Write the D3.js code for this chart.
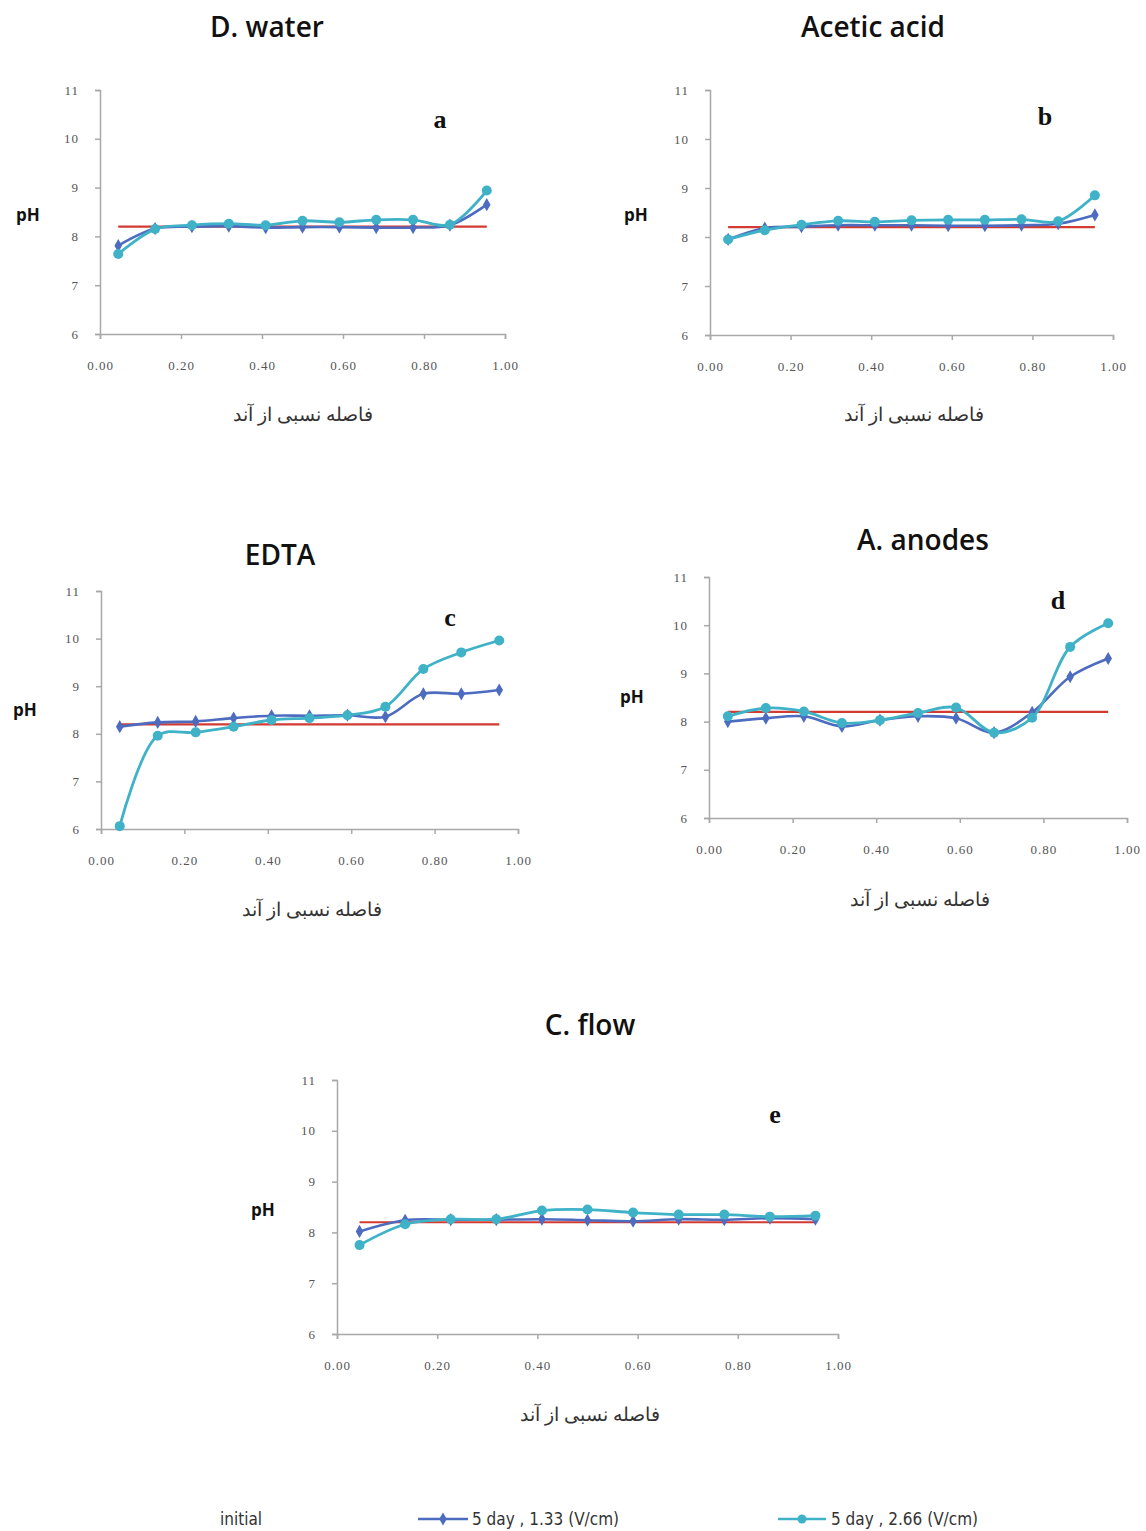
<!DOCTYPE html>
<html>
<head>
<meta charset="utf-8">
<script src="https://cdn.jsdelivr.net/npm/d3@7"></script>
<style>
  html, body { margin: 0; padding: 0; background: #fff; }
  svg { display: block; }
  .title { font-family: "Open Sans", sans-serif; font-weight: 600; font-size: 28px; fill: #111; }
  .ylab { font-family: "Open Sans", sans-serif; font-weight: 700; font-size: 17px; fill: #111; }
  .letter { font-family: "Liberation Serif", serif; font-weight: 700; font-size: 26px; fill: #111; }
  .tick text { font-family: "Liberation Serif", serif; font-size: 13px; fill: #555; letter-spacing: 1px; }
  .xtitle { font-family: "Liberation Serif", "DejaVu Serif", serif; font-size: 19px; fill: #333; }
  .legend { font-family: "Liberation Sans Narrow", "DejaVu Sans Condensed", sans-serif; font-size: 17px; fill: #333; }
</style>
</head>
<body>
<svg id="chart" width="1146" height="1531"></svg>
<script>
// Relative distance from the anode for the 11 sampling sections
const distances = [0.045, 0.136, 0.227, 0.318, 0.409, 0.5, 0.591, 0.682, 0.773, 0.864, 0.955];
const initialPH = 8.2;

const xTicks = [0, 0.2, 0.4, 0.6, 0.8, 1.0];
const yTicks = [6, 7, 8, 9, 10, 11];

const panelTitles = ["D. water", "Acetic acid", "EDTA", "A. anodes", "C. flow"];
const panelLetters = ["a", "b", "c", "d", "e"];

const seriesNames = ["initial", "5 day , 1.33 (V/cm)", "5 day , 2.66 (V/cm)"];

// pH after 5 days at 1.33 V/cm
const low_water  = [7.81, 8.16, 8.20, 8.21, 8.18, 8.19, 8.19, 8.18, 8.18, 8.23, 8.65];
const low_acetic = [7.95, 8.18, 8.21, 8.24, 8.24, 8.24, 8.23, 8.23, 8.24, 8.27, 8.45];
const low_edta   = [8.15, 8.24, 8.26, 8.33, 8.38, 8.38, 8.39, 8.36, 8.84, 8.84, 8.92];
const low_anodes = [8.00, 8.07, 8.11, 7.90, 8.03, 8.11, 8.07, 7.77, 8.19, 8.93, 9.31];
const low_flow   = [8.02, 8.24, 8.25, 8.25, 8.26, 8.24, 8.22, 8.26, 8.25, 8.28, 8.26];

// pH after 5 days at 2.66 V/cm
const high_water  = [7.64, 8.15, 8.23, 8.26, 8.23, 8.32, 8.29, 8.34, 8.34, 8.24, 8.94];
const high_acetic = [7.95, 8.14, 8.25, 8.33, 8.31, 8.34, 8.35, 8.35, 8.36, 8.32, 8.85];
const high_edta   = [6.06, 7.96, 8.03, 8.15, 8.29, 8.33, 8.39, 8.57, 9.36, 9.71, 9.96];
const high_anodes = [8.11, 8.28, 8.21, 7.97, 8.03, 8.18, 8.29, 7.77, 8.08, 9.55, 10.04];
const high_flow   = [7.75, 8.16, 8.26, 8.26, 8.43, 8.45, 8.39, 8.35, 8.35, 8.31, 8.33];

const lowSeries  = [low_water, low_acetic, low_edta, low_anodes, low_flow];
const highSeries = [high_water, high_acetic, high_edta, high_anodes, high_flow];

// Plot boxes for the five panels
const layout = [
  { left: 100, right: 505,  top: 90,   bottom: 334,  titleX: 267, titleY: 37,   phX: 28,  phY: 221,  xtX: 303, xtY: 421,  letX: 440,  letY: 128 },
  { left: 710, right: 1113, top: 90,   bottom: 335,  titleX: 873, titleY: 37,   phX: 636, phY: 221,  xtX: 914, xtY: 421,  letX: 1045, letY: 125 },
  { left: 101, right: 518,  top: 591,  bottom: 829,  titleX: 280, titleY: 565,  phX: 25,  phY: 716,  xtX: 312, xtY: 916,  letX: 450,  letY: 626 },
  { left: 709, right: 1127, top: 577,  bottom: 818,  titleX: 923, titleY: 550,  phX: 632, phY: 703,  xtX: 920, xtY: 906,  letX: 1058, letY: 609 },
  { left: 337, right: 838,  top: 1080, bottom: 1334, titleX: 590, titleY: 1035, phX: 263, phY: 1216, xtX: 590, xtY: 1421, letX: 775,  letY: 1123 }
];

const colInitial = "#d23a32";
const colLow = "#4d6cc0";
const colHigh = "#3fb2c8";
const axisCol = "#a8a8a8";

const svg = d3.select("#chart");
const diamond = d3.symbol().type(d3.symbolDiamond).size(50);

layout.forEach((L, i) => {
  const g = svg.append("g");
  const x = d3.scaleLinear().domain([0, 1]).range([L.left, L.right]);
  const y = d3.scaleLinear().domain([6, 11]).range([L.bottom, L.top]);

  const yAxis = g.append("g").attr("transform", `translate(${L.left},0)`)
    .call(d3.axisLeft(y).tickValues(yTicks).tickFormat(d3.format("d")).tickSize(5).tickPadding(16));
  const xAxis = g.append("g").attr("transform", `translate(0,${L.bottom})`)
    .call(d3.axisBottom(x).tickValues(xTicks).tickFormat(d3.format(".2f")).tickSize(5).tickPadding(22));
  [xAxis, yAxis].forEach(a => {
    a.select(".domain").attr("stroke", axisCol).attr("stroke-width", 1.5);
    a.selectAll(".tick line").attr("stroke", axisCol).attr("stroke-width", 1.5);
  });

  const line = d3.line().x((d, k) => x(distances[k])).y(d => y(d)).curve(d3.curveCatmullRom.alpha(0.5));

  // initial pH reference
  g.append("line")
    .attr("x1", x(distances[0])).attr("x2", x(distances[distances.length - 1]))
    .attr("y1", y(initialPH)).attr("y2", y(initialPH))
    .attr("stroke", colInitial).attr("stroke-width", 2.2);

  // 1.33 V/cm series
  g.append("path").datum(lowSeries[i]).attr("d", line)
    .attr("fill", "none").attr("stroke", colLow).attr("stroke-width", 2.6);
  g.selectAll(".mlow").data(lowSeries[i]).join("path").attr("class", "mlow")
    .attr("d", diamond)
    .attr("transform", (d, k) => `translate(${x(distances[k])},${y(d)})`)
    .attr("fill", colLow);

  // 2.66 V/cm series
  g.append("path").datum(highSeries[i]).attr("d", line)
    .attr("fill", "none").attr("stroke", colHigh).attr("stroke-width", 2.8);
  g.selectAll(".mhigh").data(highSeries[i]).join("circle").attr("class", "mhigh")
    .attr("cx", (d, k) => x(distances[k])).attr("cy", d => y(d)).attr("r", 5)
    .attr("fill", colHigh);

  g.append("text").attr("class", "title").attr("x", L.titleX).attr("y", L.titleY)
    .attr("text-anchor", "middle").text(panelTitles[i]);
  g.append("text").attr("class", "ylab").attr("x", L.phX).attr("y", L.phY)
    .attr("text-anchor", "middle").text("pH");
  g.append("text").attr("class", "letter").attr("x", L.letX).attr("y", L.letY)
    .attr("text-anchor", "middle").text(panelLetters[i]);
  g.append("text").attr("class", "xtitle").attr("x", L.xtX).attr("y", L.xtY)
    .attr("text-anchor", "middle").attr("direction", "rtl").text("فاصله نسبی از آند");
});

// Legend
const leg = svg.append("g");
leg.append("text").attr("class", "legend").attr("x", 220).attr("y", 1525).text(seriesNames[0]);

leg.append("line").attr("x1", 418).attr("x2", 468).attr("y1", 1519).attr("y2", 1519)
  .attr("stroke", colLow).attr("stroke-width", 2.5);
leg.append("path").attr("d", diamond).attr("transform", "translate(443,1519)").attr("fill", colLow);
leg.append("text").attr("class", "legend").attr("x", 472).attr("y", 1525).text(seriesNames[1]);

leg.append("line").attr("x1", 778).attr("x2", 826).attr("y1", 1519).attr("y2", 1519)
  .attr("stroke", colHigh).attr("stroke-width", 2.5);
leg.append("circle").attr("cx", 802).attr("cy", 1519).attr("r", 4.5).attr("fill", colHigh);
leg.append("text").attr("class", "legend").attr("x", 831).attr("y", 1525).text(seriesNames[2]);
</script>
</body>
</html>
